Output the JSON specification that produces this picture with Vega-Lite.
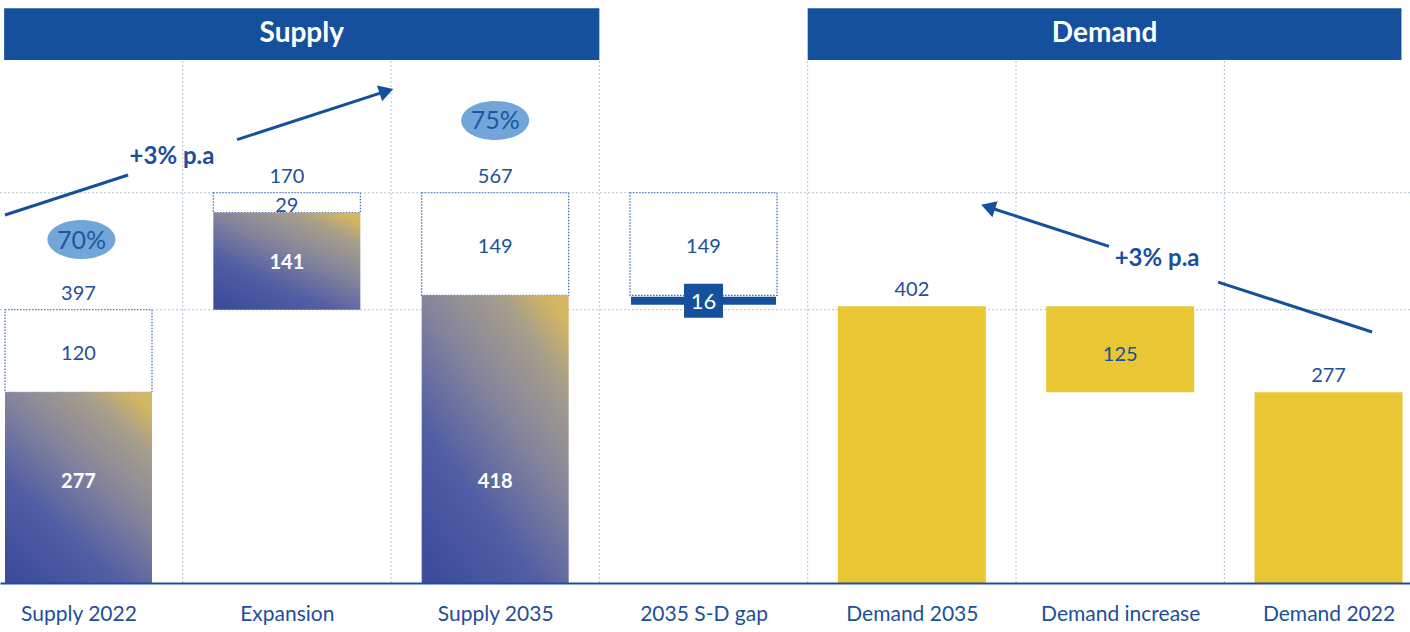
{
  "$schema": "https://vega.github.io/schema/vega-lite/v6.json",
  "width": 1410,
  "height": 583,
  "autosize": {"type": "none"},
  "padding": {"left": 0, "top": 0, "right": 0, "bottom": 49},
  "background": "white",
  "config": {"view": {"stroke": null}, "font": "Lato", "axisY": {"disable": true}},
  "datasets": {
    "headers": [{"name": "Supply", "x0": -0.357, "x1": 2.5}, {"name": "Demand", "x0": 3.5, "x1": 6.35}],
    "vgrid": [{"x": 0.5}, {"x": 1.5}, {"x": 2.5}, {"x": 3.5}, {"x": 4.5}, {"x": 5.5}],
    "hgrid": [{"y": 397}, {"y": 567}],
    "boxes": [
      {"cat": 0, "start": 277, "end": 397, "value": 120},
      {"cat": 1, "start": 538, "end": 567, "value": 29},
      {"cat": 2, "start": 418, "end": 567, "value": 149},
      {"cat": 3, "start": 418, "end": 567, "value": 149}
    ],
    "supply": [
      {"cat": 0, "start": 0, "end": 277, "value": 277},
      {"cat": 1, "start": 397, "end": 538, "value": 141},
      {"cat": 2, "start": 0, "end": 418, "value": 418}
    ],
    "demand": [
      {"cat": 4, "start": 0, "end": 402, "value": 402},
      {"cat": 5, "start": 277, "end": 402, "value": 125},
      {"cat": 6, "start": 0, "end": 277, "value": 277}
    ],
    "totals": [
      {"cat": 0, "v": 397, "label": "397"},
      {"cat": 1, "v": 567, "label": "170"},
      {"cat": 2, "v": 567, "label": "567"},
      {"cat": 4, "v": 402, "label": "402"},
      {"cat": 6, "v": 277, "label": "277"}
    ],
    "gap": [{"cat": 3, "v": 410, "label": "16"}],
    "shares": [{"cat": 0.014, "v": 499, "label": "70%"}, {"cat": 2.0, "v": 672, "label": "75%"}],
    "arrows": [
      {"seg": "s1", "ord": 0, "x": -0.353, "y": 534.6},
      {"seg": "s1", "ord": 1, "x": 0.238, "y": 592.7},
      {"seg": "s2", "ord": 0, "x": 0.761, "y": 644.1},
      {"seg": "s2", "ord": 1, "x": 1.478, "y": 714.6},
      {"seg": "d1", "ord": 0, "x": 6.209, "y": 364.6},
      {"seg": "d1", "ord": 1, "x": 5.47, "y": 437.2},
      {"seg": "d2", "ord": 0, "x": 4.946, "y": 489.1},
      {"seg": "d2", "ord": 1, "x": 4.366, "y": 546.3}
    ],
    "heads": [{"x": 1.478, "y": 714.6, "angle": 342}, {"x": 4.366, "y": 546.3, "angle": 198}],
    "growth": [{"x": 0.449, "y": 618.8, "label": "+3% p.a"}, {"x": 5.177, "y": 470.7, "label": "+3% p.a"}]
  },
  "layer": [
    {
      "data": {"name": "headers"},
      "mark": {"type": "rect", "color": "#14509b"},
      "encoding": {
        "x": {
          "field": "x0", "type": "quantitative", "title": null,
          "scale": {"domain": [-0.3768, 6.391], "nice": false, "zero": false, "padding": 0},
          "axis": {
            "orient": "bottom", "zindex": 1,
            "values": [0, 1, 2, 3, 4, 5, 6],
            "labelExpr": "['Supply 2022','Expansion','Supply 2035','2035 S-D gap','Demand 2035','Demand increase','Demand 2022'][datum.value]",
            "labelFontSize": 21, "labelColor": "#1d4f9b", "labelFont": "Lato",
            "labelPadding": 20, "ticks": false, "grid": false,
            "domainColor": "#1f4e9c", "domainWidth": 2, "labelFlush": false, "labelOverlap": false
          }
        },
        "x2": {"field": "x1"},
        "y": {"datum": 760, "type": "quantitative", "title": null, "scale": {"domain": [0, 847], "nice": false, "padding": 0}},
        "y2": {"datum": 835}
      }
    },
    {
      "data": {"name": "headers"},
      "transform": [{"calculate": "(datum.x0 + datum.x1) / 2", "as": "xm"}],
      "mark": {"type": "text", "color": "white", "fontSize": 28, "fontWeight": "bold", "baseline": "middle", "dy": 1},
      "encoding": {
        "x": {"field": "xm", "type": "quantitative", "title": null},
        "y": {"datum": 799, "type": "quantitative", "title": null},
        "text": {"field": "name"}
      }
    },
    {
      "data": {"name": "vgrid"},
      "mark": {"type": "rule", "color": "#b3c5dd", "strokeDash": [2, 2], "strokeWidth": 1},
      "encoding": {
        "x": {"field": "x", "type": "quantitative", "title": null},
        "y": {"datum": 0, "type": "quantitative", "title": null},
        "y2": {"datum": 760}
      }
    },
    {
      "data": {"name": "hgrid"},
      "mark": {"type": "rule", "color": "#b3c5dd", "strokeDash": [2, 2], "strokeWidth": 1},
      "encoding": {
        "y": {"field": "y", "type": "quantitative", "title": null}
      }
    },
    {
      "data": {"name": "boxes"},
      "mark": {"type": "bar", "width": 147, "fill": "white", "stroke": "#3a66b0", "strokeDash": [1.5, 1.5], "strokeWidth": 1.2},
      "encoding": {
        "x": {"field": "cat", "type": "quantitative", "title": null},
        "y": {"field": "start", "type": "quantitative", "title": null},
        "y2": {"field": "end"}
      }
    },
    {
      "data": {"name": "supply"},
      "mark": {
        "type": "bar",
        "width": 147,
        "color": {
          "gradient": "linear", "x1": 0.15, "y1": 1, "x2": 0.85, "y2": 0,
          "stops": [
            {"offset": 0, "color": "#3e4d9b"},
            {"offset": 0.3, "color": "#525ea4"},
            {"offset": 0.6, "color": "#85859b"},
            {"offset": 0.85, "color": "#a79e8b"},
            {"offset": 1, "color": "#d3b562"}
          ]
        }
      },
      "encoding": {
        "x": {"field": "cat", "type": "quantitative", "title": null},
        "y": {"field": "start", "type": "quantitative", "title": null},
        "y2": {"field": "end"}
      }
    },
    {
      "data": {"name": "demand"},
      "mark": {"type": "bar", "width": 148, "color": "#e9c633"},
      "encoding": {
        "x": {"field": "cat", "type": "quantitative", "title": null},
        "y": {"field": "start", "type": "quantitative", "title": null},
        "y2": {"field": "end"}
      }
    },
    {
      "data": {"name": "gap"},
      "mark": {"type": "tick", "orient": "horizontal", "size": 145, "thickness": 8, "color": "#14509b", "opacity": 1},
      "encoding": {
        "x": {"field": "cat", "type": "quantitative", "title": null},
        "y": {"field": "v", "type": "quantitative", "title": null}
      }
    },
    {
      "data": {"name": "gap"},
      "mark": {"type": "point", "shape": "M-1,-0.87L1,-0.87L1,0.87L-1,0.87Z", "size": 1521, "filled": true, "color": "#14509b", "opacity": 1},
      "encoding": {
        "x": {"field": "cat", "type": "quantitative", "title": null},
        "y": {"field": "v", "type": "quantitative", "title": null}
      }
    },
    {
      "data": {"name": "gap"},
      "mark": {"type": "text", "color": "white", "fontSize": 22, "baseline": "middle", "dy": 1},
      "encoding": {
        "x": {"field": "cat", "type": "quantitative", "title": null},
        "y": {"field": "v", "type": "quantitative", "title": null},
        "text": {"field": "label"}
      }
    },
    {
      "data": {"name": "boxes"},
      "transform": [{"calculate": "(datum.start + datum.end) / 2", "as": "mid"}],
      "mark": {"type": "text", "color": "#1d4f9b", "fontSize": 20, "baseline": "middle", "dy": 3},
      "encoding": {
        "x": {"field": "cat", "type": "quantitative", "title": null},
        "y": {"field": "mid", "type": "quantitative", "title": null},
        "text": {"field": "value"}
      }
    },
    {
      "data": {"name": "supply"},
      "transform": [{"calculate": "datum.start > 0 ? (datum.start + datum.end) / 2 : 150", "as": "mid"}],
      "mark": {"type": "text", "color": "white", "fontSize": 20, "fontWeight": "bold", "baseline": "middle", "dy": 2},
      "encoding": {
        "x": {"field": "cat", "type": "quantitative", "title": null},
        "y": {"field": "mid", "type": "quantitative", "title": null},
        "text": {"field": "value"}
      }
    },
    {
      "data": {"name": "demand"},
      "transform": [{"filter": "datum.start > 0"}, {"calculate": "(datum.start + datum.end) / 2", "as": "mid"}],
      "mark": {"type": "text", "color": "#1d4f9b", "fontSize": 20, "baseline": "middle", "dy": 6},
      "encoding": {
        "x": {"field": "cat", "type": "quantitative", "title": null},
        "y": {"field": "mid", "type": "quantitative", "title": null},
        "text": {"field": "value"}
      }
    },
    {
      "data": {"name": "totals"},
      "mark": {"type": "text", "color": "#1d4f9b", "fontSize": 20, "baseline": "alphabetic", "dy": -10},
      "encoding": {
        "x": {"field": "cat", "type": "quantitative", "title": null},
        "y": {"field": "v", "type": "quantitative", "title": null},
        "text": {"field": "label"}
      }
    },
    {
      "data": {"name": "shares"},
      "mark": {"type": "point", "shape": "M-1,0A1,0.574,0,1,1,1,0A1,0.574,0,1,1,-1,0Z", "size": 4624, "filled": true, "color": "#71a6d8", "opacity": 1},
      "encoding": {
        "x": {"field": "cat", "type": "quantitative", "title": null},
        "y": {"field": "v", "type": "quantitative", "title": null}
      }
    },
    {
      "data": {"name": "shares"},
      "mark": {"type": "text", "color": "#1f56a4", "fontSize": 25, "baseline": "middle", "dy": 1},
      "encoding": {
        "x": {"field": "cat", "type": "quantitative", "title": null},
        "y": {"field": "v", "type": "quantitative", "title": null},
        "text": {"field": "label"}
      }
    },
    {
      "data": {"name": "arrows"},
      "mark": {"type": "line", "color": "#14509b", "strokeWidth": 3},
      "encoding": {
        "x": {"field": "x", "type": "quantitative", "title": null},
        "y": {"field": "y", "type": "quantitative", "title": null},
        "detail": {"field": "seg"},
        "order": {"field": "ord"}
      }
    },
    {
      "data": {"name": "heads"},
      "mark": {"type": "point", "shape": "triangle-right", "size": 280, "filled": true, "color": "#14509b", "opacity": 1},
      "encoding": {
        "x": {"field": "x", "type": "quantitative", "title": null},
        "y": {"field": "y", "type": "quantitative", "title": null},
        "angle": {"field": "angle", "type": "quantitative", "scale": null}
      }
    },
    {
      "data": {"name": "growth"},
      "mark": {"type": "text", "color": "#1a4f9c", "fontSize": 24, "fontWeight": "bold", "baseline": "middle"},
      "encoding": {
        "x": {"field": "x", "type": "quantitative", "title": null},
        "y": {"field": "y", "type": "quantitative", "title": null},
        "text": {"field": "label"}
      }
    }
  ]
}
